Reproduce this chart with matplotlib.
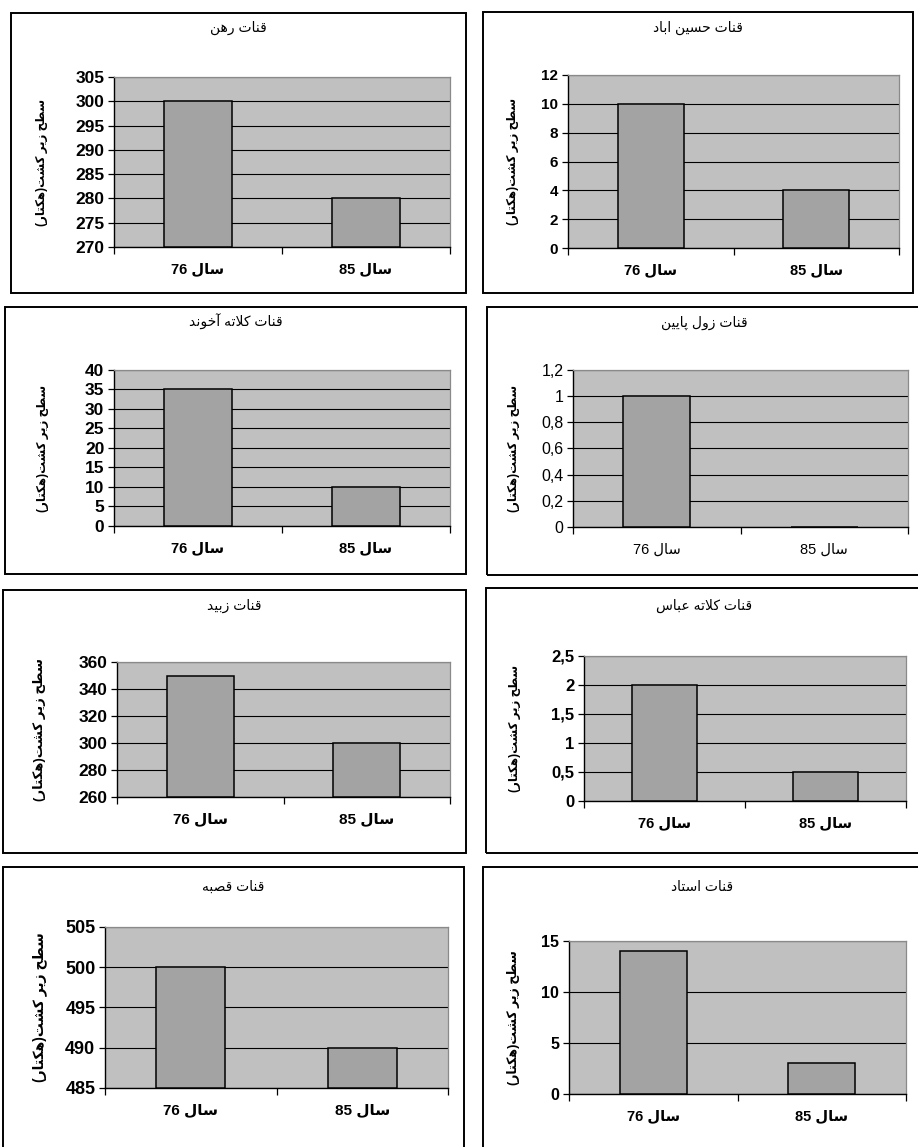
import matplotlib
matplotlib.use("Agg")
import matplotlib.pyplot as plt
from matplotlib.patches import Rectangle

plt.rcParams["font.family"] = ["Liberation Sans", "DejaVu Sans"]

# qanat names, one chart each (left to right, top to bottom)
titles = ["قنات رهن", "قنات حسین اباد", "قنات کلاته آخوند", "قنات زول پایین",
          "قنات زبید", "قنات کلاته عباس", "قنات قصبه", "قنات استاد"]
years = ["76", "85"]
area_76 = [300, 10, 35, 1, 350, 2, 500, 14]
area_85 = [280, 4, 10, 0, 300, 0.5, 490, 3]
y_min = [270, 0, 0, 0, 260, 0, 485, 0]
y_max = [305, 12, 40, 1.2, 360, 2.5, 505, 15]
y_step = [5, 2, 5, 0.2, 20, 0.5, 5, 5]
y_label = "سطح زیر کشت(هکتار)"
year_word = "سال"

# pixel layout: frame box, plot area (left, top, right, bottom), title y, ylabel x
frames = [(11, 13, 466, 293), (483, 12, 913, 293),
          (5, 307, 466, 574), (487, 307, 922, 575),
          (3, 590, 466, 853), (486, 588, 922, 853),
          (3, 867, 464, 1152), (483, 867, 922, 1152)]
plots = [(114, 77, 450, 247), (568, 75, 899, 248),
         (114, 370, 450, 526), (573, 370, 908, 527),
         (117, 662, 450, 797), (584, 656, 906, 801),
         (105, 927, 448, 1088), (569, 941, 906, 1094)]
title_y = [28, 28, 322, 323, 606, 606, 887, 887]
ylab_x = [42, 513, 43, 514, 40, 515, 40, 513]
tick_size = [12.5, 11, 12.5, 11.5, 12.5, 12, 13, 11.5]
xlab_size = [10.5, 10.5, 10.5, 10.5, 11, 10.5, 11, 10.5]
ylab_size = [8.5, 8.5, 8.5, 8.5, 9.5, 8.5, 10, 9]
bold = [True, True, True, False, True, True, True, True]

# arabic presentation forms: isolated, final, initial, medial
FORMS = {
    "ا": ("\uFE8D", "\uFE8E", None, None),
    "آ": ("\uFE81", "\uFE82", None, None),
    "ب": ("\uFE8F", "\uFE90", "\uFE91", "\uFE92"),
    "پ": ("\uFB56", "\uFB57", "\uFB58", "\uFB59"),
    "ت": ("\uFE95", "\uFE96", "\uFE97", "\uFE98"),
    "ح": ("\uFEA1", "\uFEA2", "\uFEA3", "\uFEA4"),
    "خ": ("\uFEA5", "\uFEA6", "\uFEA7", "\uFEA8"),
    "د": ("\uFEA9", "\uFEAA", None, None),
    "ر": ("\uFEAD", "\uFEAE", None, None),
    "ز": ("\uFEAF", "\uFEB0", None, None),
    "س": ("\uFEB1", "\uFEB2", "\uFEB3", "\uFEB4"),
    "ش": ("\uFEB5", "\uFEB6", "\uFEB7", "\uFEB8"),
    "ص": ("\uFEB9", "\uFEBA", "\uFEBB", "\uFEBC"),
    "ط": ("\uFEC1", "\uFEC2", "\uFEC3", "\uFEC4"),
    "ع": ("\uFEC9", "\uFECA", "\uFECB", "\uFECC"),
    "ق": ("\uFED5", "\uFED6", "\uFED7", "\uFED8"),
    "ک": ("\uFB8E", "\uFB8F", "\uFB90", "\uFB91"),
    "ل": ("\uFEDD", "\uFEDE", "\uFEDF", "\uFEE0"),
    "ن": ("\uFEE5", "\uFEE6", "\uFEE7", "\uFEE8"),
    "ه": ("\uFEE9", "\uFEEA", "\uFEEB", "\uFEEC"),
    "و": ("\uFEED", "\uFEEE", None, None),
    "ی": ("\uFBFC", "\uFBFD", "\uFBFE", "\uFBFF"),
}
LAM_ALEF = {"ا": ("\uFEFB", "\uFEFC"), "آ": ("\uFEF5", "\uFEF6")}
MIRROR = {"(": ")", ")": "("}


def shape(text):
    out = []
    i = 0
    while i < len(text):
        ch = text[i]
        prev = text[i - 1] if i > 0 else ""
        joins_prev = prev in FORMS and FORMS[prev][2] is not None
        if ch == "ل" and i + 1 < len(text) and text[i + 1] in LAM_ALEF:
            iso, fin = LAM_ALEF[text[i + 1]]
            out.append(fin if joins_prev else iso)
            i += 2
            continue
        if ch in FORMS:
            iso, fin, ini, med = FORMS[ch]
            nxt = text[i + 1] if i + 1 < len(text) else ""
            joins_next = ini is not None and nxt in FORMS
            if joins_prev and joins_next:
                out.append(med)
            elif joins_prev:
                out.append(fin)
            elif joins_next:
                out.append(ini)
            else:
                out.append(iso)
        else:
            out.append(MIRROR.get(ch, ch))
        i += 1
    return "".join(reversed(out))


W, H = 918, 1147
fig = plt.figure(figsize=(W / 100, H / 100), dpi=100)
fig.patch.set_facecolor("white")

for k in range(8):
    fl, ft, fr, fb = frames[k]
    fig.patches.append(Rectangle((fl / W, 1 - fb / H), (fr - fl) / W, (fb - ft) / H,
                                 transform=fig.transFigure, fill=False,
                                 edgecolor="black", linewidth=1.4))
    pl, pt, pr, pb = plots[k]
    ax = fig.add_axes([pl / W, 1 - pb / H, (pr - pl) / W, (pb - pt) / H])
    ax.set_facecolor("#c0c0c0")
    weight = "bold" if bold[k] else "normal"

    lo, hi, st = y_min[k], y_max[k], y_step[k]
    n = int(round((hi - lo) / st))
    ticks = [round(lo + j * st, 6) for j in range(n + 1)]
    ax.set_ylim(lo, hi)
    ax.set_yticks(ticks)
    ax.set_yticklabels([f"{t:g}".replace(".", ",") for t in ticks],
                       fontsize=tick_size[k], fontweight=weight)
    ax.yaxis.grid(True, color="black", linewidth=0.8)
    ax.set_axisbelow(True)

    vals = [area_76[k], area_85[k]]
    ax.bar([0.5, 1.5], [v - lo for v in vals], bottom=lo, width=0.4,
           color="#a3a3a3", edgecolor="black", linewidth=1.1, zorder=3)

    ax.set_xlim(0, 2)
    ax.set_xticks([0, 1, 2])
    ax.set_xticklabels([])
    ax.set_xticks([0.5, 1.5], minor=True)
    ax.set_xticklabels([y + " " + shape(year_word) for y in years], minor=True,
                       fontsize=xlab_size[k], fontweight=weight)
    ax.tick_params(axis="x", which="major", length=5, width=0.9, direction="out")
    ax.tick_params(axis="x", which="minor", length=0, pad=11)
    ax.tick_params(axis="y", length=4, width=0.9, direction="out", pad=3)

    for side in ("top", "right"):
        ax.spines[side].set_color("#8a8a8a")
        ax.spines[side].set_linewidth(0.9)
    for side in ("left", "bottom"):
        ax.spines[side].set_color("black")
        ax.spines[side].set_linewidth(1.0)

    fig.text((fl + fr) / 2 / W, 1 - title_y[k] / H, shape(titles[k]),
             ha="center", va="center", fontsize=10)
    fig.text(ylab_x[k] / W, 1 - (pt + pb) / 2 / H, shape(y_label),
             rotation=90, ha="center", va="center",
             fontsize=ylab_size[k], fontweight="bold")

fig.savefig("out.png", dpi=100)
